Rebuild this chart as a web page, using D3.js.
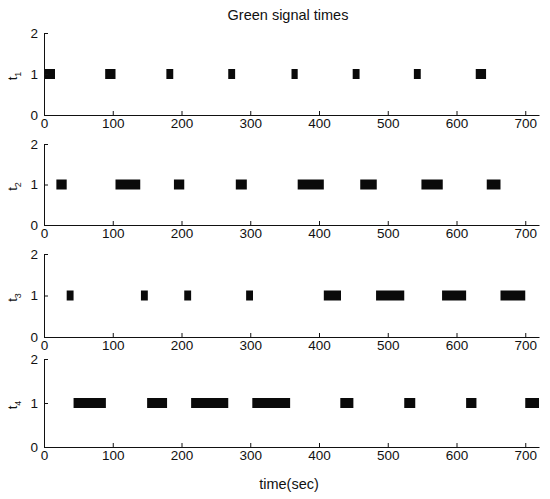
<!DOCTYPE html>
<html>
<head>
<meta charset="utf-8">
<script src="https://cdn.jsdelivr.net/npm/d3@7"></script>
<style>
  html, body { margin: 0; padding: 0; background: #fff; }
  svg { display: block; font-family: "Liberation Sans", Arial, Helvetica, sans-serif; }
</style>
</head>
<body>
<svg id="chart" width="550" height="499"></svg>
<script>
// Green intervals [start, end] in seconds for each signal
const t1Green = [[0, 16], [89, 104], [178, 188], [268, 278], [360, 369], [449, 459], [538, 548], [628, 643]];
const t2Green = [[18, 33], [104, 140], [189, 204], [279, 295], [369, 407], [460, 484], [549, 580], [644, 664]];
const t3Green = [[33, 43], [141, 151], [204, 214], [294, 304], [407, 432], [483, 524], [579, 614], [664, 700]];
const t4Green = [[43, 90], [150, 179], [214, 268], [303, 358], [431, 450], [524, 540], [614, 629], [700, 720]];

const signalNames = ["1", "2", "3", "4"];          // subscript of each t label
const signalData = [t1Green, t2Green, t3Green, t4Green];
const greenLevel = 1;                                 // level the green bars sit at
const xTicks = [0, 100, 200, 300, 400, 500, 600, 700];
const yTicks = [0, 1, 2];
const xDomain = [0, 720];
const yDomain = [0, 2];
const titleText = "Green signal times";
const xLabelText = "time(sec)";

// Panel geometry (top/bottom pixel of each stacked axes)
const panelTop = [33, 144, 254, 359];
const panelBottom = [115, 225, 337, 447];
const left = 44, right = 539;
const barHeight = 10;

const svg = d3.select("#chart");

const x = d3.scaleLinear().domain(xDomain).range([left, right]);

svg.append("text")
  .attr("x", 288).attr("y", 20)
  .attr("text-anchor", "middle")
  .attr("font-size", 14.5)
  .attr("fill", "#111")
  .text(titleText);

signalData.forEach((intervals, i) => {
  const y = d3.scaleLinear().domain(yDomain).range([panelBottom[i], panelTop[i]]);
  const g = svg.append("g");

  // green bars
  g.selectAll("rect.bar")
    .data(intervals)
    .join("rect")
    .attr("class", "bar")
    .attr("x", d => x(d[0]))
    .attr("width", d => x(d[1]) - x(d[0]))
    .attr("y", y(greenLevel) - barHeight / 2)
    .attr("height", barHeight)
    .attr("fill", "#0a0a0a");

  // x axis (ticks point inward)
  const xAxis = g.append("g")
    .attr("transform", `translate(0,${panelBottom[i]})`)
    .call(d3.axisBottom(x).tickValues(xTicks).tickSize(-4).tickSizeOuter(0).tickPadding(3));
  xAxis.selectAll("text").attr("font-size", 13.5).attr("fill", "#111");

  // y axis
  const yAxis = g.append("g")
    .attr("transform", `translate(${left},0)`)
    .call(d3.axisLeft(y).tickValues(yTicks).tickFormat(d3.format("d")).tickSize(-4).tickSizeOuter(0).tickPadding(6));
  yAxis.selectAll("text").attr("font-size", 13.5).attr("fill", "#111");

  [xAxis, yAxis].forEach(a => {
    a.select(".domain").attr("stroke", "#111");
    a.selectAll(".tick line").attr("stroke", "#111");
    a.attr("font-family", null);
  });

  // y label: t with subscript
  const lbl = g.append("text")
    .attr("transform", `translate(17,${y(greenLevel) + 2}) rotate(-90)`)
    .attr("text-anchor", "middle")
    .attr("font-size", 13)
    .attr("fill", "#111");
  lbl.append("tspan").text("t");
  lbl.append("tspan").attr("font-size", 9).attr("dy", 4).text(signalNames[i]);
});

svg.append("text")
  .attr("x", 289).attr("y", 489)
  .attr("text-anchor", "middle")
  .attr("font-size", 14.5)
  .attr("fill", "#111")
  .text(xLabelText);
</script>
</body>
</html>
